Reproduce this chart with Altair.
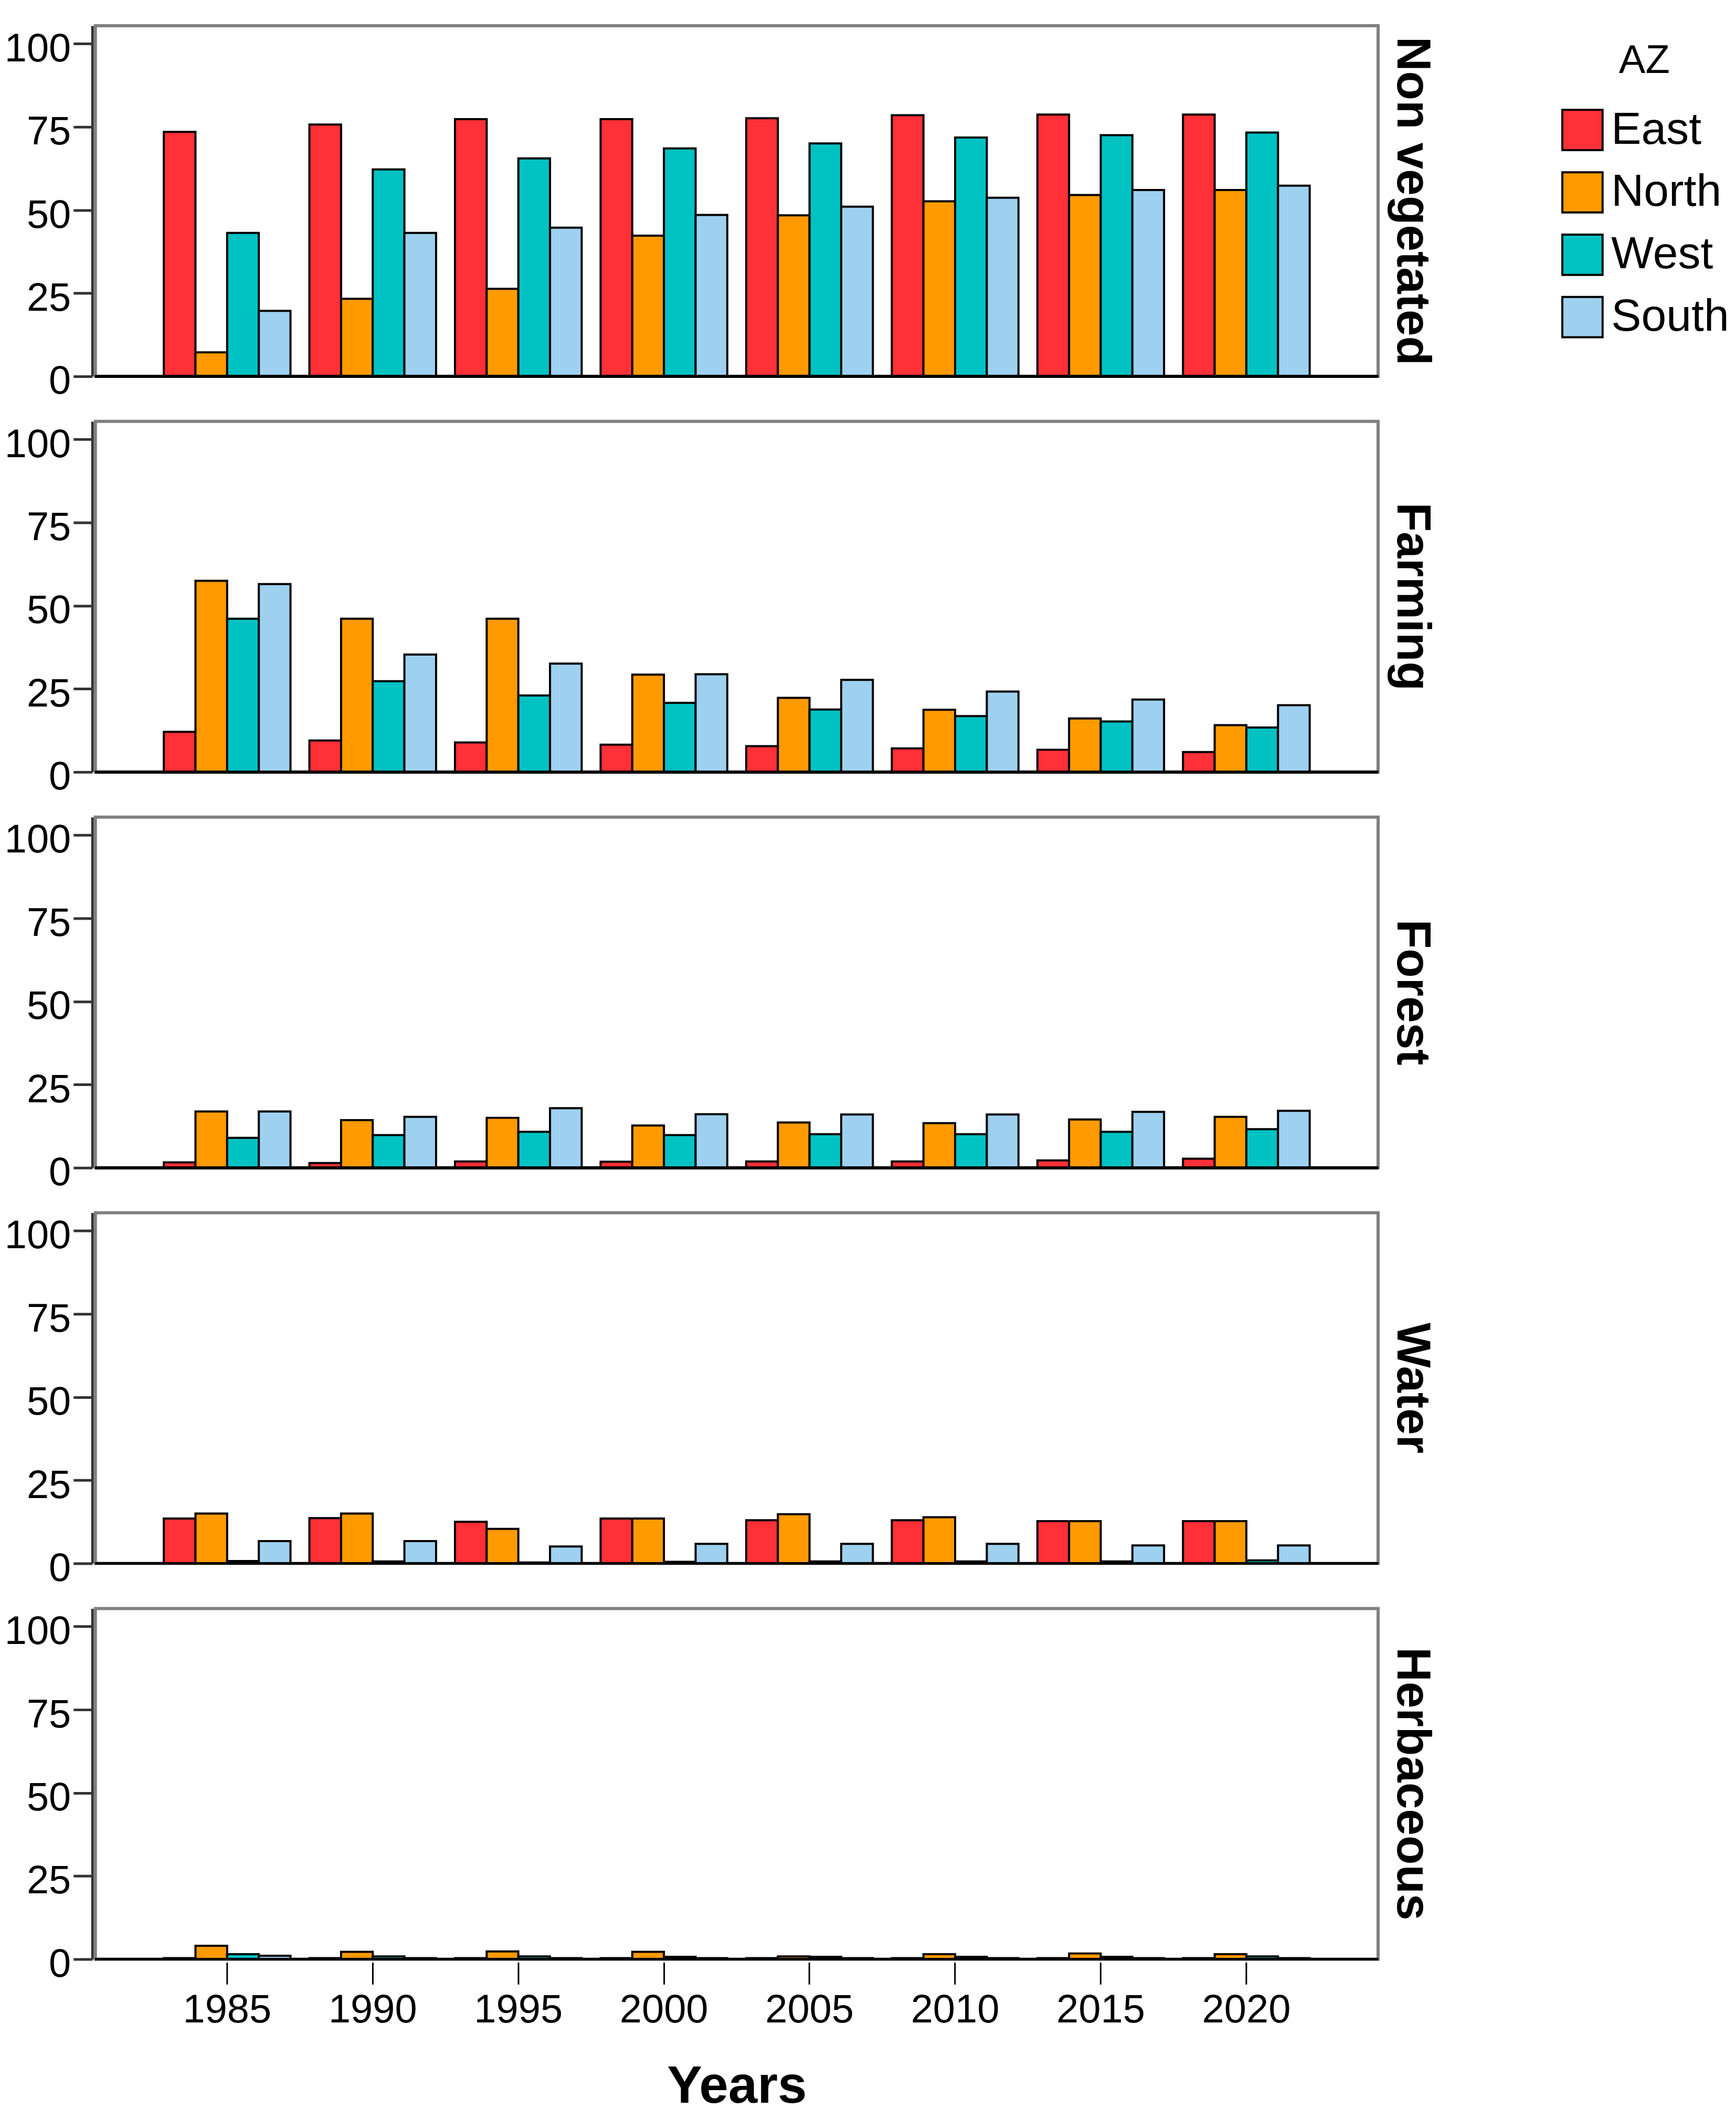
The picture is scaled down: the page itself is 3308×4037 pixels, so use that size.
import altair as alt
import pandas as pd

# Land cover share (%) per zone
years = [1985, 1990, 1995, 2000, 2005, 2010, 2015, 2020]
zones = ["East", "North", "West", "South"]
classes = ["Non vegetated", "Farming", "Forest", "Water", "Herbaceous"]
zone_colors = ["#FF3037", "#FF9A00", "#00C2C3", "#9ED1F0"]

non_vegetated = {
    "East": [73.5, 75.7, 77.3, 77.3, 77.6, 78.5, 78.7, 78.7],
    "North": [7.2, 23.3, 26.3, 42.3, 48.4, 52.6, 54.5, 56.0],
    "West": [43.1, 62.2, 65.5, 68.5, 70.0, 71.8, 72.5, 73.3],
    "South": [19.7, 43.1, 44.7, 48.5, 51.0, 53.7, 56.0, 57.3],
}
farming = {
    "East": [12.1, 9.5, 8.9, 8.2, 7.8, 7.1, 6.7, 6.0],
    "North": [57.5, 46.1, 46.1, 29.3, 22.3, 18.7, 16.1, 14.1],
    "West": [46.1, 27.3, 23.0, 20.8, 18.8, 16.8, 15.2, 13.4],
    "South": [56.5, 35.3, 32.6, 29.4, 27.7, 24.2, 21.8, 20.1],
}
forest = {
    "East": [1.6, 1.4, 1.9, 1.8, 1.9, 1.9, 2.2, 2.7],
    "North": [16.9, 14.3, 15.0, 12.7, 13.6, 13.4, 14.5, 15.3],
    "West": [9.0, 9.8, 10.8, 9.8, 10.1, 10.1, 10.8, 11.6],
    "South": [16.9, 15.3, 17.9, 16.1, 16.0, 16.0, 16.8, 17.1],
}
water = {
    "East": [13.5, 13.6, 12.5, 13.5, 13.0, 13.0, 12.7, 12.7],
    "North": [15.0, 15.0, 10.4, 13.5, 14.8, 13.9, 12.7, 12.7],
    "West": [0.7, 0.6, 0.3, 0.5, 0.6, 0.6, 0.6, 0.9],
    "South": [6.7, 6.7, 5.1, 5.9, 5.9, 5.9, 5.4, 5.4],
}
herbaceous = {
    "East": [0.3, 0.3, 0.3, 0.3, 0.3, 0.3, 0.3, 0.3],
    "North": [4.0, 2.2, 2.3, 2.2, 0.8, 1.5, 1.7, 1.5],
    "West": [1.5, 0.8, 0.8, 0.7, 0.7, 0.7, 0.7, 0.8],
    "South": [1.0, 0.3, 0.3, 0.3, 0.3, 0.3, 0.3, 0.3],
}

rows = []
for cls, table in zip(classes, [non_vegetated, farming, forest, water, herbaceous]):
    for zone in zones:
        for yr, val in zip(years, table[zone]):
            rows.append({"Class": cls, "AZ": zone, "Years": yr, "Value": val})
df = pd.DataFrame(rows)

FONT = "Liberation Sans Narrow, Liberation Sans, Arial"

bars = alt.Chart().mark_bar(stroke="black", strokeWidth=4).encode(
    x=alt.X("Years:O", title="Years",
            scale=alt.Scale(paddingInner=0.13, paddingOuter=0.47),
            axis=alt.Axis(labelAngle=0, domain=False, tickSize=42, tickWidth=3,
                          tickColor="black", labelPadding=12, labelFontSize=76,
                          labelFont=FONT, titleFontSize=100, titleFontWeight="bold",
                          titleFont="Liberation Sans", titlePadding=60)),
    xOffset=alt.XOffset("AZ:N", sort=zones),
    y=alt.Y("Value:Q", title=None,
            scale=alt.Scale(domain=[0, 105.4], nice=False),
            axis=alt.Axis(values=[0, 25, 50, 75, 100], grid=False, domainColor="#333333",
                          domainWidth=5, tickColor="#333333", tickWidth=5, tickSize=36,
                          labelPadding=5, labelFontSize=76, labelFont=FONT, labelOffset=10)),
    color=alt.Color("AZ:N", sort=zones,
                    scale=alt.Scale(domain=zones, range=zone_colors),
                    legend=alt.Legend(title="AZ", orient="none", legendX=2795, legendY=30,
                                      titleFontSize=76, titleFontWeight="normal",
                                      titleFont="Liberation Sans", titleAnchor="middle",
                                      titlePadding=50, labelFontSize=86, labelFont=FONT,
                                      labelLimit=0, symbolType="square", symbolSize=5900,
                                      symbolStrokeColor="black", symbolStrokeWidth=4,
                                      symbolOpacity=1, rowPadding=25, labelOffset=12)),
)

zero_line = alt.Chart().mark_rule(color="black", strokeWidth=5).encode(y=alt.datum(0))

chart = (
    alt.layer(bars, zero_line, data=df)
    .properties(width=2448, height=669)
    .facet(row=alt.Row("Class:N", sort=classes,
                       header=alt.Header(title=None, labelOrient="right", labelAngle=90,
                                         labelFontSize=91, labelFontWeight="bold",
                                         labelFont="Liberation Sans", labelPadding=12)),
           spacing=77)
    .properties(padding={"left": 0, "top": 35, "right": 5, "bottom": 5})
    .configure_view(stroke="#808080", strokeWidth=6)
)

chart.save("out.html", embed_options={"renderer": "svg", "actions": False})
